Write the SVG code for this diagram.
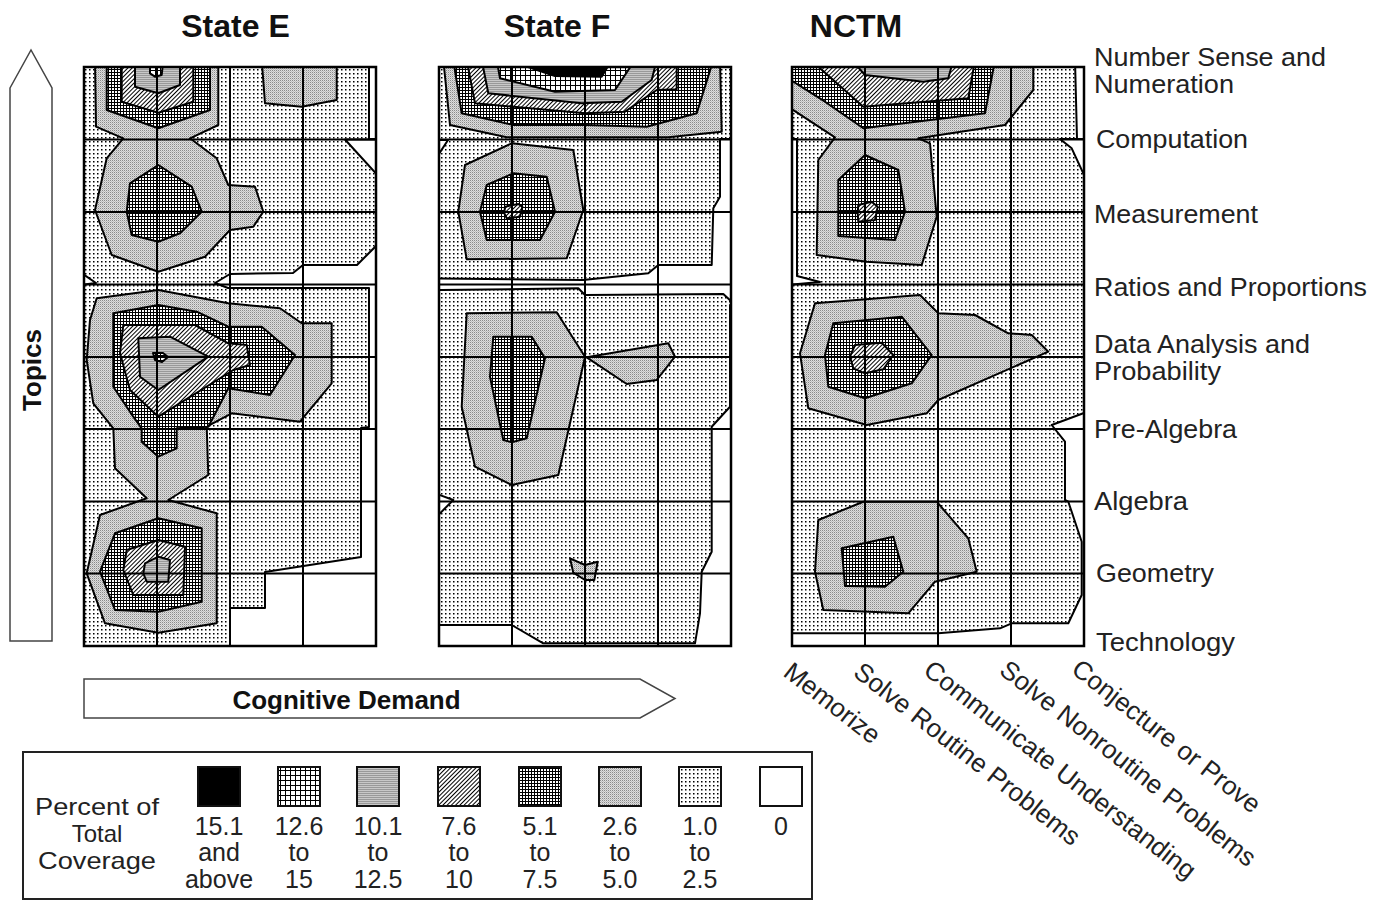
<svg xmlns="http://www.w3.org/2000/svg" width="1385" height="900" viewBox="0 0 1385 900">
<defs>
<pattern id="p1" width="4" height="4" patternUnits="userSpaceOnUse"><rect width="4" height="4" fill="#fff"/><rect x="1" y="1" width="1.5" height="1.5" fill="#000"/></pattern>
<pattern id="p2" width="2" height="2" patternUnits="userSpaceOnUse"><rect width="2" height="2" fill="#dedede"/><rect width="1" height="1" fill="#8a8a8a"/><rect x="1" y="1" width="1" height="1" fill="#bdbdbd"/></pattern>
<pattern id="p3" width="3" height="3" patternUnits="userSpaceOnUse"><rect width="3" height="3" fill="#000"/><rect x="1" y="1" width="2" height="2" fill="#fff"/></pattern>
<pattern id="p4" width="3" height="3" patternUnits="userSpaceOnUse" patternTransform="rotate(45)"><rect width="3" height="3" fill="#fff"/><rect width="1" height="3" fill="#000"/></pattern>
<pattern id="p5" width="2" height="2" patternUnits="userSpaceOnUse"><rect width="2" height="2" fill="#999"/><rect width="2" height="1" fill="#c8c8c8"/></pattern>
<pattern id="p6" width="5" height="5" patternUnits="userSpaceOnUse"><rect width="5" height="5" fill="#000"/><rect x="1" y="1" width="4" height="4" fill="#fff"/></pattern>
<clipPath id="cE"><rect x="84" y="67" width="292" height="579"/></clipPath>
<clipPath id="cF"><rect x="439" y="67" width="292" height="579"/></clipPath>
<clipPath id="cN"><rect x="792" y="67" width="292" height="579"/></clipPath>
</defs>
<style>
.c{stroke:#000;stroke-width:2;stroke-linejoin:round}
.w{fill:#fff}
.l1{fill:url(#p1)}
.l2{fill:url(#p2)}
.l3{fill:url(#p3)}
.l4{fill:url(#p4)}
.l5{fill:url(#p5)}
.l6{fill:url(#p6)}
.l7{fill:#000}
.g{stroke:#000;stroke-width:2;fill:none}
.b{stroke:#000;stroke-width:2.5;fill:none}
.t{font-family:"Liberation Sans",Arial,sans-serif;fill:#222}
.tb{font-family:"Liberation Sans",Arial,sans-serif;font-weight:bold;fill:#111}
.ax{fill:#fff;stroke:#444;stroke-width:1.5}
.sw{stroke:#111;stroke-width:2}
</style>

<g id="titles">
<text class="tb" x="235.5" y="37" font-size="32" text-anchor="middle">State E</text>
<text class="tb" x="557" y="37" font-size="32" text-anchor="middle">State F</text>
<text class="tb" x="856" y="37" font-size="32" text-anchor="middle">NCTM</text>
</g>

<g id="panel-state-e">
<g clip-path="url(#cE)">
<rect class="l1" x="84" y="67" width="292" height="579"/>
<polygon class="c w" points="369,60 380,60 380,139 369,139"/>
<polygon class="c w" points="345,139.5 380,139.5 380,178"/>
<polygon class="c w" points="380,242 357,265 303,265 293,273 230,274 215,283 228,288 369,288 369,427 361,428 361,557 265,572 265,608 230,608 230,650 380,650"/>
<polygon class="c w" points="80,272 96,283 80,285"/>
<polygon class="c l2" points="95,60 218.3,60 218.3,125 190,138.3 216.7,158.3 228.3,185 255,186.7 263.3,211.7 253.3,226.7 230,230 205,256.7 158.3,271.7 111.7,255 95,210 106.7,158.3 123.3,138.3 96,126.7"/>
<polygon class="c l2" points="261.7,60 265,103.3 301.7,106.7 336.7,100 336.7,60"/>
<polygon class="c l2" points="96.7,298.3 158.3,290 228.3,303.3 280,308.3 301.7,323.3 331.7,323.3 331.7,383.3 300,421.7 231.7,413.3 206.7,426.7 208.3,475 168.3,500 216.7,513.3 216.7,623.3 158.3,632.7 105,623.3 86.7,573.3 100,515 146.7,498.3 115,468.3 113.3,428.3 93.3,403.3 86.7,360 90,320"/>
<polygon class="c l3" points="106.7,60 106.7,110 158.3,128.3 210,110 210,60"/>
<polygon class="c l3" points="130,183.3 158.3,165 191.7,186.7 201.7,211.7 180,233.3 158.3,241.7 131.7,235 126.7,211.7"/>
<polygon class="c l3" points="113.3,313.3 158.3,305 196.7,311.7 228.3,326.7 261.7,326.7 295,355 270,395 228.3,388.3 208.3,426.7 176.7,428.3 176.7,448.3 158.3,456.7 141.7,441.7 141.7,428.3 133.3,416.7 113.3,386.7"/>
<polygon class="c l3" points="115,533.3 158.3,518.3 201.7,528.3 201.7,601.7 158.3,611.7 115,610 100,571.7"/>
<polygon class="c l4" points="121.7,60 121.7,101.7 158.3,112.7 193.3,101.7 193.3,60"/>
<polygon class="c l4" points="123.3,325 195,325 228.3,343.3 246.7,345 250,365 233.3,370 158.3,416.7 130,390 120,353.3"/>
<polygon class="c l4" points="126.7,550 158.3,540 185,546.7 183.3,595 133.3,595 123.3,570"/>
<polygon class="c l5" points="135,60 135,86.7 158.3,93.3 180,85 180,60"/>
<polygon class="c l5" points="138.3,338.3 170,336.7 208.3,356.7 158.3,390 140,376.7"/>
<polygon class="c l5" points="145,563.3 158.3,556.7 170,560 168.3,581.7 146.7,581.7 143.3,573.3"/>
<polygon class="c l6" points="150,60 150,73.3 155,76.7 161.7,75 163.3,60"/>
<polygon class="c l6" points="153,353 163,353 168,357 162,362 155,360"/>
</g>
<path class="g" d="M157,67V646M230,67V646M303,67V646M84,139.5H376M84,212H376M84,284.5H376M84,357H376M84,429H376M84,501.5H376M84,573.5H376"/>
<rect class="b" x="84" y="67" width="292" height="579"/>
</g>

<g id="panel-state-f">
<g clip-path="url(#cF)">
<rect class="l1" x="439" y="67" width="292" height="579"/>
<polygon class="c w" points="720,139 735,139 735,305 723.3,294 585,295 578.3,288.3 441.7,290 435,290 435,278.5 583,280 648.3,273.3 658.3,265 711.7,265 713.3,208.3 720,196.7"/>
<polygon class="c w" points="435,140 448,140 435,160"/>
<polygon class="c w" points="730,305 735,305 735,650 435,650 435,625 511.7,625 543.3,643.3 695,643.3 700,613.3 701.7,571.7 711.7,551.7 711.7,426.7 730,406.7"/>
<polygon class="c w" points="435,493.3 453.3,500 435,518.3"/>
<polygon class="c l2" points="443.3,60 450,125 506.7,137.3 668.3,137.3 721.7,131.7 720,60"/>
<polygon class="c l2" points="465,165 511.7,143.3 573.3,150 583.3,210 566.7,258.3 466.7,259.3 458.3,211.7"/>
<polygon class="c l2" points="466.7,313.3 556.7,312.3 585,356.7 558.3,475 511.7,485 475,466.7 461.7,406.7"/>
<polygon class="c l2" points="586.7,357.3 668.3,343.3 675,356.7 656.7,380 626.7,384"/>
<polygon class="c l2" points="570,558.3 585,565 597.7,561.7 594.3,580 585,580 573.3,572.7"/>
<polygon class="c l3" points="453.3,60 461.7,113.3 513.3,125 585,125 646.7,126.7 696.7,113.3 713.3,60"/>
<polygon class="c l3" points="486.7,185 513.3,173.3 546.7,176.7 555,211.7 540,240 486.7,240 480,211.7"/>
<polygon class="c l3" points="493.3,336.7 531.7,336.7 545,358.3 526.7,438.3 511.7,442.3 503.3,440 490,376.7"/>
<polygon class="c l4" points="466.7,60 475,103.3 585,113.3 625,111.7 656.7,90 676.7,89.3 676.7,60"/>
<polygon class="c l4" points="505,206.7 518.3,204 522.3,206.7 520,216.7 506.7,218.3 504.3,213.3"/>
<polygon class="c l5" points="481.7,60 488.3,93.3 581.7,103.3 621.7,101.7 651.7,80 656.7,60"/>
<polygon class="c l6" points="496.7,60 500,78.3 555,91.7 615,90 635,60"/>
<polygon class="c l7" points="506.7,60 555,76 601.7,76.7 611.7,60"/>
</g>
<path class="g" d="M512,67V646M585,67V646M658,67V646M439,139.5H731M439,212H731M439,284.5H731M439,357H731M439,429H731M439,501.5H731M439,573.5H731"/>
<rect class="b" x="439" y="67" width="292" height="579"/>
</g>

<g id="panel-nctm">
<g clip-path="url(#cN)">
<rect class="l1" x="792" y="67" width="292" height="579"/>
<polygon class="c w" points="1075,60 1090,60 1090,139 1077,139"/>
<polygon class="c w" points="1060,139 1090,139 1090,188 1071.7,148.3"/>
<polygon class="c w" points="788,139 797,139 797,276 820,282 798,284 788,285"/>
<polygon class="c w" points="1083.3,413.3 1051.7,425 1065,441.7 1065,500 1068.3,501.7 1081.7,541.7 1081.7,595 1068.3,623.3 1011.7,623.3 1000,628.3 938.3,633.3 796.7,633.3 788,633 788,650 1090,650 1090,413.3"/>
<polygon class="c l2" points="788,60 788,106.7 835,137.3 818.3,160 816.7,255 866.7,261.7 921.7,265 936.7,216.7 930,143.3 918.3,138.3 1005,125 1033.3,90 1033.3,60"/>
<polygon class="c l2" points="815,303.3 920,295 938.3,313.3 975,315 1008.3,333.3 1031.7,335 1048.3,351.7 938.3,400 926.7,413.3 866.7,425 808.3,408.3 800,353.3"/>
<polygon class="c l2" points="818.3,520 863.3,501.7 936.7,501.7 968.3,538.3 976.7,571.7 935,581.7 908.3,613.3 823.3,610 815,571.7"/>
<polygon class="c l3" points="788,60 788,78.3 825,101.7 863.3,128.3 985,113.3 995,60"/>
<polygon class="c l3" points="838.3,180 865,155 898.3,170 905,211.7 895,240 838.3,236"/>
<polygon class="c l3" points="833.3,323.3 901.7,316.7 931.7,355 911.7,383.3 865,398.3 828.3,386.7 825,355"/>
<polygon class="c l3" points="841.7,548.3 893.3,536.7 903.3,571.7 885,586.7 845,586"/>
<polygon class="c l4" points="818.3,60 818.3,66.7 863.3,106.7 968.3,98.3 975,60"/>
<polygon class="c l4" points="858.3,205 871.7,201.7 877.7,206.7 875,220 858.3,221.7 857.7,213.3"/>
<polygon class="c l4" points="855,345 881.7,342.7 893.3,355 883.3,369.3 865,373.3 853.3,368.3 850,356.7"/>
<polygon class="c l5" points="851.7,60 865,75 923.3,81.7 948.3,78.3 953.3,60"/>
</g>
<path class="g" d="M865,67V646M938,67V646M1011,67V646M792,139.5H1084M792,212H1084M792,284.5H1084M792,357H1084M792,429H1084M792,501.5H1084M792,573.5H1084"/>
<rect class="b" x="792" y="67" width="292" height="579"/>
</g>

<g id="topic-labels">
<text class="t" font-size="25" x="1094" y="66" textLength="232" lengthAdjust="spacingAndGlyphs">Number Sense and</text>
<text class="t" font-size="25" x="1094" y="93" textLength="140" lengthAdjust="spacingAndGlyphs">Numeration</text>
<text class="t" font-size="25" x="1096" y="148" textLength="152" lengthAdjust="spacingAndGlyphs">Computation</text>
<text class="t" font-size="25" x="1094" y="223" textLength="164" lengthAdjust="spacingAndGlyphs">Measurement</text>
<text class="t" font-size="25" x="1094" y="296" textLength="273" lengthAdjust="spacingAndGlyphs">Ratios and Proportions</text>
<text class="t" font-size="25" x="1094" y="353" textLength="216" lengthAdjust="spacingAndGlyphs">Data Analysis and</text>
<text class="t" font-size="25" x="1094" y="380" textLength="127" lengthAdjust="spacingAndGlyphs">Probability</text>
<text class="t" font-size="25" x="1094" y="438" textLength="143" lengthAdjust="spacingAndGlyphs">Pre-Algebra</text>
<text class="t" font-size="25" x="1094" y="510" textLength="94" lengthAdjust="spacingAndGlyphs">Algebra</text>
<text class="t" font-size="25" x="1096" y="582" textLength="118" lengthAdjust="spacingAndGlyphs">Geometry</text>
<text class="t" font-size="25" x="1096" y="651" textLength="139" lengthAdjust="spacingAndGlyphs">Technology</text>
</g>

<g id="demand-labels">
<text class="t" font-size="26" transform="translate(782,675) rotate(38)">Memorize</text>
<text class="t" font-size="26" transform="translate(852,675) rotate(38)">Solve Routine Problems</text>
<text class="t" font-size="26" transform="translate(922,673) rotate(38)">Communicate Understanding</text>
<text class="t" font-size="26" transform="translate(998,673) rotate(38)">Solve Nonroutine Problems</text>
<text class="t" font-size="26" transform="translate(1070,672) rotate(38)">Conjecture or Prove</text>
</g>

<g id="axis-arrows">
<g id="topics-arrow">
<polygon class="ax" points="10,88 31,50 52,88 52,641 10,641"/>
<text class="tb" font-size="26" text-anchor="middle" transform="translate(41,370) rotate(-90)">Topics</text>
</g>
<g id="demand-arrow">
<polygon class="ax" points="84,679 640,679 675,698.5 640,718 84,718"/>
<text class="tb" font-size="26" x="346.5" y="709" text-anchor="middle">Cognitive Demand</text>
</g>
</g>

<g id="legend">
<rect x="23" y="752" width="789" height="147" fill="#fff" stroke="#222" stroke-width="2"/>
<g class="t" font-size="24" text-anchor="middle">
<text x="97" y="815" textLength="124" lengthAdjust="spacingAndGlyphs">Percent of</text>
<text x="97" y="842">Total</text>
<text x="97" y="869" textLength="118" lengthAdjust="spacingAndGlyphs">Coverage</text>
</g>
<rect class="sw l7" x="198" y="767" width="42" height="39"/>
<rect class="sw l6" x="278" y="767" width="42" height="39"/>
<rect class="sw l5" x="357" y="767" width="42" height="39"/>
<rect class="sw l4" x="438" y="767" width="42" height="39"/>
<rect class="sw l3" x="519" y="767" width="42" height="39"/>
<rect class="sw l2" x="599" y="767" width="42" height="39"/>
<rect class="sw l1" x="679" y="767" width="42" height="39"/>
<rect class="sw w" x="760" y="767" width="42" height="39"/>
<g class="t" font-size="25" text-anchor="middle">
<text x="219" y="835">15.1</text><text x="219" y="861">and</text><text x="219" y="888">above</text>
<text x="299" y="835">12.6</text><text x="299" y="861">to</text><text x="299" y="888">15</text>
<text x="378" y="835">10.1</text><text x="378" y="861">to</text><text x="378" y="888">12.5</text>
<text x="459" y="835">7.6</text><text x="459" y="861">to</text><text x="459" y="888">10</text>
<text x="540" y="835">5.1</text><text x="540" y="861">to</text><text x="540" y="888">7.5</text>
<text x="620" y="835">2.6</text><text x="620" y="861">to</text><text x="620" y="888">5.0</text>
<text x="700" y="835">1.0</text><text x="700" y="861">to</text><text x="700" y="888">2.5</text>
<text x="781" y="835">0</text>
</g>
</g>
</svg>
